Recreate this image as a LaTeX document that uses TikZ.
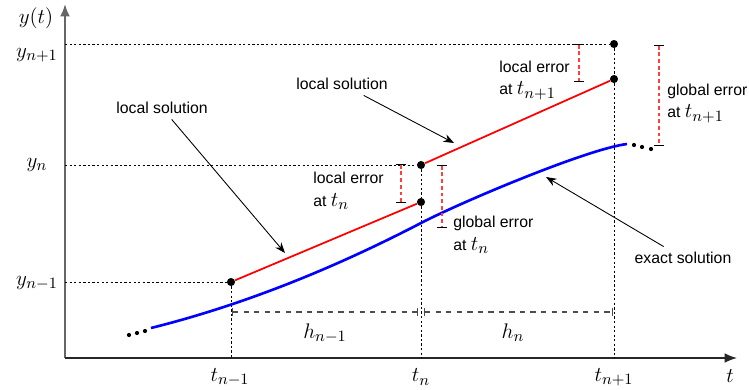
\documentclass[tikz,border=0pt]{standalone}
\usepackage{fontspec}
\setmainfont{Liberation Sans}
\usetikzlibrary{arrows.meta}
\newcommand{\mth}{\fontsize{13}{15}\selectfont}

\begin{document}
\begin{tikzpicture}[x=0.02cm,y=-0.02cm,
    pt/.style={circle,fill=black,inner sep=0pt,minimum size=4.6pt},
    smalldot/.style={circle,fill=black,inner sep=0pt,minimum size=2.4pt},
    guide/.style={dash pattern=on 1.3pt off 1.3pt,line width=0.5pt},
    lbl/.style={font=\mth,inner sep=1pt},
    txt/.style={font=\fontsize{9}{13}\selectfont,align=left,anchor=west,inner sep=0pt},
    ann/.style={-{Stealth[length=6pt,width=4.6pt]},line width=0.5pt},
    errbar/.style={red!75,dash pattern=on 2.2pt off 1.6pt,line width=0.6pt,{Bar[width=6pt,black]}-{Bar[width=6pt,black]}},
    hdim/.style={black!70,dashed,line width=0.8pt,{Bar[width=5pt]}-{Bar[width=5pt]}}]
    \useasboundingbox (0,0) rectangle (749,389);
    % Achsen
    \coordinate (O) at (65,358);
    \draw[black!60,line width=1pt,-{Latex[length=7pt,width=5.5pt]}] (O) -- (65,4);
    \draw[black!85,line width=0.8pt,-{Latex[length=7pt,width=5.5pt]}] (O) -- (737,358);
    \node[lbl] (ylab) at (36,18) {$y(t)$};
    \node[lbl] (tlab) at (730,376) {$t$};
    % Punkte
    \node[pt] (pa) at (231,282) {};
    \node[pt] (pb) at (421,165) {};
    \node[pt] (qb) at (421,202) {};
    \node[pt] (pc) at (614,44) {};
    \node[pt] (qc) at (614,79) {};
    % Hilfslinien
    \draw[guide] (O |- pa) -- (pa);
    \draw[guide] (O |- pb) -- (pb);
    \draw[guide] (O |- pc) -- (pc);
    \draw[guide] (pa) -- (pa |- O);
    \draw[guide] (pb) -- (qb);
    \draw[guide] (qb) -- (qb |- O);
    \draw[guide] (pc) -- (qc);
    \draw[guide] (qc) -- (qc |- O);
    % y-Werte
    \node[lbl] (ya) at (37,283) {$y_{n-1}$};
    \node[lbl] (yb) at (37,165) {$y_n$};
    \node[lbl] (yc) at (37,55) {$y_{n+1}$};
    % t-Werte
    \node[lbl] (ta) at (230,377) {$t_{n-1}$};
    \node[lbl] (tb) at (421,377) {$t_n$};
    \node[lbl] (tc) at (614,377) {$t_{n+1}$};
    % lokale Loesungen
    \draw[red,line width=1pt] (pa) -- (qb);
    \draw[red,line width=1pt] (pb) -- (qc);
    % exakte Loesung
    \draw[blue,line width=1.5pt] (151,328) .. controls (241,305.5) and (331,269.8) .. (421,223)
      .. controls (461,202.2) and (587,149) .. (627,144);
    \node[smalldot] at (129,335) {};
    \node[smalldot] at (137,333) {};
    \node[smalldot] at (145,331) {};
    \node[smalldot] at (634,145) {};
    \node[smalldot] at (642,147) {};
    \node[smalldot] at (651,149) {};
    % Fehler
    \draw[errbar] (401,164) -- (401,203);
    \draw[errbar] (442,165) -- (442,228);
    \draw[errbar] (579,44) -- (579,82);
    \draw[errbar] (659,45) -- (659,146);
    \node[txt] (le1) at (313,191) {local error\\at {\mth$t_n$}};
    \node[txt] (ge1) at (453,235) {global error\\at {\mth$t_n$}};
    \node[txt] (le2) at (499,80) {local error\\at {\mth$t_{n+1}$}};
    \node[txt] (ge2) at (667,103) {global error\\at {\mth$t_{n+1}$}};
    % Beschriftungen mit Pfeil
    \node[txt,anchor=center,inner sep=3pt] (ls1) at (162,108) {local solution};
    \node[txt,anchor=center,inner sep=3pt] (ls2) at (342,84) {local solution};
    \node[txt,anchor=center,inner sep=3pt] (ex) at (683,258) {exact solution};
    \coordinate (ls1tip) at (285,253);
    \coordinate (ls2tip) at (454,143);
    \coordinate (extip) at (546,177);
    \draw[ann] (ls1) -- (ls1tip);
    \draw[ann] (ls2) -- (ls2tip);
    \draw[ann] (ex) -- (extip);
    % Schrittweiten
    \draw[hdim] (232,312) -- (418,312);
    \draw[hdim] (424,312) -- (613,312);
    \node[lbl] (ha) at (325,333) {$h_{n-1}$};
    \node[lbl] (hb) at (513,333) {$h_n$};
\end{tikzpicture}
\end{document}
